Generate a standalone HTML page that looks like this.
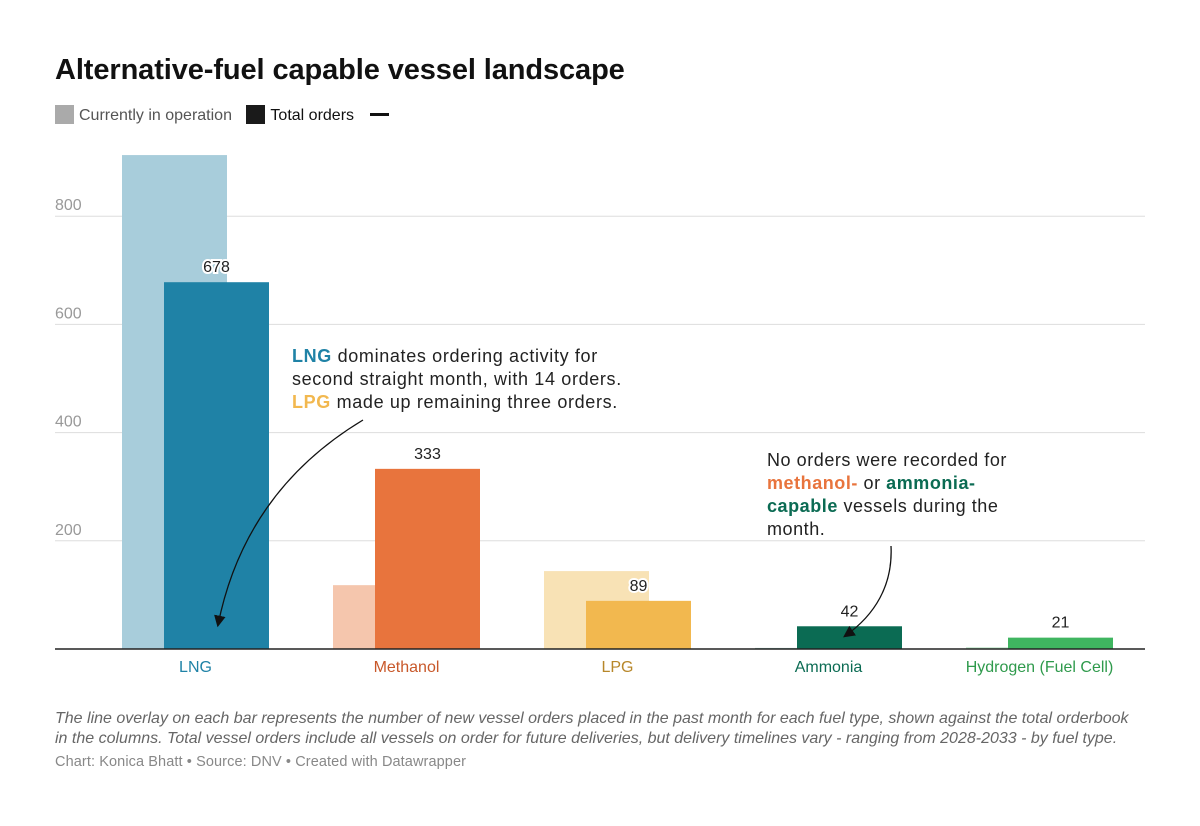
<!DOCTYPE html>
<html><head><meta charset="utf-8"><style>
body{margin:0;background:#fff;font-family:"Liberation Sans",sans-serif;}
#wrap{position:relative;width:1200px;height:826px;overflow:hidden;}
.t{position:absolute;white-space:nowrap;}
</style></head><body>
<div id="wrap">
<div class="t" style="left:55px;top:54px;font-size:29px;font-weight:bold;color:#111;letter-spacing:-0.1px">Alternative-fuel capable vessel landscape</div>
<div class="t" style="left:55px;top:105px;font-size:16px;color:#555;">
<span><span style="display:inline-block;width:19px;height:19px;background:#aaa;vertical-align:-4px;margin-right:5px"></span>Currently in operation</span>
<span style="margin-left:10px;color:#111"><span style="display:inline-block;width:19px;height:19px;background:#1a1a1a;vertical-align:-4px;margin-right:5px"></span>Total orders</span>
<span style="display:inline-block;width:19px;height:3px;background:#111;vertical-align:4px;margin-left:12px"></span>
</div>
<svg id="chart" width="1200" height="826" style="position:absolute;left:0;top:0">
<defs><marker id="ah" viewBox="0 0 10 10" refX="8" refY="5" markerWidth="9" markerHeight="9" orient="auto"><path d="M0,0L10,5L0,10z" fill="#111"/></marker></defs>
<g id="grid"></g><g id="bars"></g><g id="labels"></g>
<path d="M363,420 C280,470 235,540 218,625" fill="none" stroke="#111" stroke-width="1.3" marker-end="url(#ah)"/>
<path d="M891,546 C893,585 875,615 845,636" fill="none" stroke="#111" stroke-width="1.3" marker-end="url(#ah)"/>
</svg>
<div class="t" style="left:292px;top:345px;font-size:18px;line-height:23px;color:#222;letter-spacing:0.65px"><b style="color:#1f82a6">LNG</b> dominates ordering activity for<br>second straight month, with 14 orders.<br><b style="color:#f2b84f">LPG</b> made up remaining three orders.</div>
<div class="t" style="left:767px;top:449px;font-size:18px;line-height:23px;color:#222;letter-spacing:0.55px">No orders were recorded for<br><b style="color:#e8743d">methanol-</b> or <b style="color:#0b6b53">ammonia-</b><br><b style="color:#0b6b53">capable</b> vessels during the<br>month.</div>
<div class="t" style="left:55px;top:709px;font-size:16px;line-height:20px;color:#666;font-style:italic">The line overlay on each bar represents the number of new vessel orders placed in the past month for each fuel type, shown against the total orderbook<br>in the columns. Total vessel orders include all vessels on order for future deliveries, but delivery timelines vary - ranging from 2028-2033 - by fuel type.</div>
<div class="t" style="left:55px;top:754px;font-size:14.5px;color:#888;letter-spacing:0.1px">Chart: Konica Bhatt • Source: DNV • Created with Datawrapper</div>
</div>
<script>
const categories=["LNG","Methanol","LPG","Ammonia","Hydrogen (Fuel Cell)"];
const operation=[913,118,144,2,3];
const orders=[678,333,89,42,21];
const ticks=[200,400,600,800];
const darkColors=["#1f82a6","#e8743d","#f2b84f","#0b6b53","#3fb560"];
const lightColors=["#a8cddb","#f5c6ad","#f8e2b5","#9dc4b8","#b5e0c0"];
const labelColors=["#1f82a6","#c8582a","#b7872a","#0b6b53","#2f9a4c"];
const NS="http://www.w3.org/2000/svg";
const y0=649,k=0.541;
const y=v=>y0-v*k;
const x=i=>122+i*211;
function mk(t,a,p){const e=document.createElementNS(NS,t);for(const n in a)e.setAttribute(n,a[n]);p.appendChild(e);return e;}
const g=document.getElementById('grid'),b=document.getElementById('bars'),l=document.getElementById('labels');
ticks.forEach(t=>{
const ln=mk('line',{x1:55,x2:1145,y1:y(t),y2:y(t),stroke:'#ddd','stroke-width':1},g);


const tx=mk('text',{x:55,y:y(t)-6,'font-size':16,fill:'#999','font-family':'Liberation Sans'},g);
tx.textContent=t;


});
categories.forEach((c,i)=>{
const r1=mk('rect',{x:x(i),y:y(operation[i]),width:105,height:operation[i]*k,fill:lightColors[i]},b);


const r2=mk('rect',{x:x(i)+42,y:y(orders[i]),width:105,height:orders[i]*k,fill:darkColors[i]},b);


const v=mk('text',{x:x(i)+94.5,y:y(orders[i])-10,'font-size':16,fill:'#222','text-anchor':'middle','font-family':'Liberation Sans',stroke:'#fff','stroke-width':4,'paint-order':'stroke'},l);
v.textContent=orders[i];


const cl=mk('text',{x:x(i)+73.5,y:672,'font-size':16,fill:labelColors[i],'text-anchor':'middle','font-family':'Liberation Sans'},l);
cl.textContent=c;


});
const ax=mk('line',{x1:55,x2:1145,y1:y0,y2:y0,stroke:'#222','stroke-width':1.5},l);


</script>
</body></html>
